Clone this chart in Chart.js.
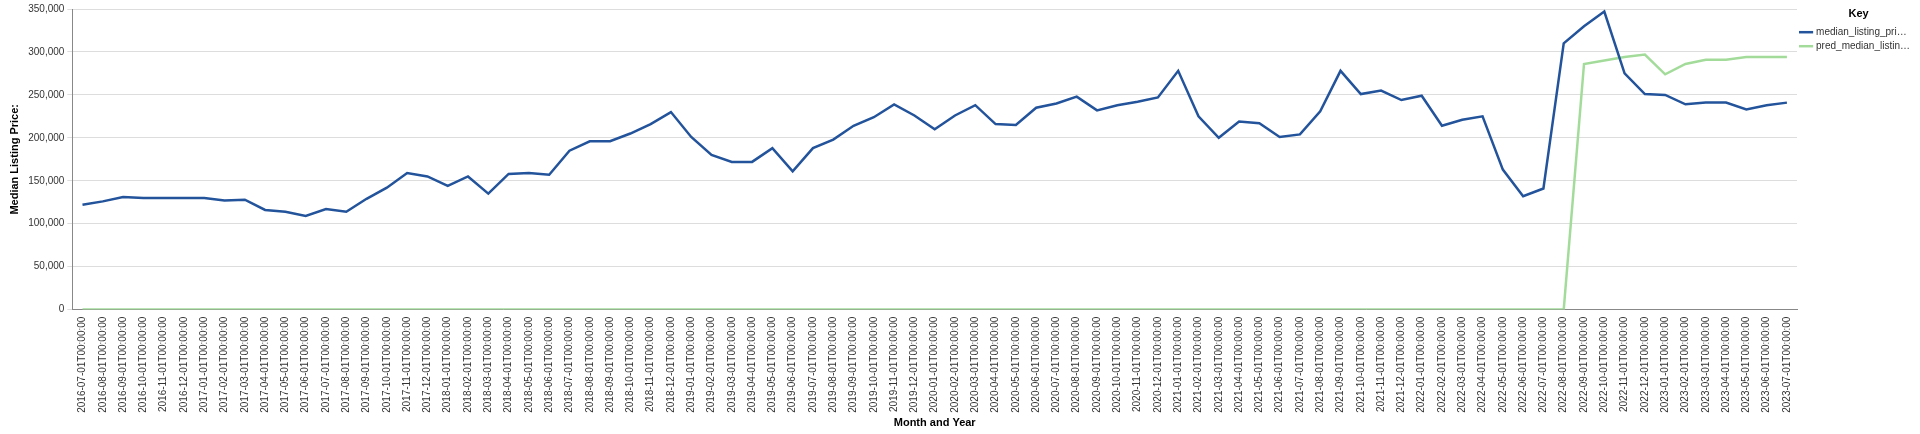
<!DOCTYPE html>
<html>
<head>
<meta charset="utf-8">
<script src="https://cdn.jsdelivr.net/npm/chart.js@4"></script>
<style>
  html, body { margin: 0; padding: 0; background: #fff; }
  #wrap { width: 1920px; height: 434px; }
</style>
</head>
<body>
<div id="wrap"><canvas id="priceChart" width="1920" height="434"></canvas></div>
<script>
const months = [];
for (let y = 2016; y <= 2023; y++) {
  for (let m = 1; m <= 12; m++) {
    if ((y === 2016 && m < 7) || (y === 2023 && m > 7)) continue;
    months.push(y + '-' + String(m).padStart(2, '0') + '-01T00:00:00');
  }
}

const medianPrice = [
  122000, 126000, 131000, 130000, 130000, 130000, 130000, 127000, 128000, 116000,
  114000, 109000, 117000, 114000, 129000, 142000, 159000, 155000, 144000, 155000,
  135000, 158000, 159000, 157000, 185000, 196000, 196000, 205000, 216000, 230000,
  201000, 180000, 172000, 172000, 188000, 161000, 188000, 198000, 214000, 224000,
  239000, 226000, 210000, 226000, 238000, 216000, 215000, 235000, 240000, 248000,
  232000, 238000, 242000, 247000, 278000, 225000, 200000, 219000, 217000, 201000,
  204000, 231000, 278000, 251000, 255000, 244000, 249000, 214000, 221000, 225000,
  163000, 132000, 141000, 310000, 330000, 347000, 275000, 251000, 250000, 239000,
  241000, 241000, 233000, 238000, 241000
];

const predPrice = [
  0, 0, 0, 0, 0, 0, 0, 0, 0, 0,
  0, 0, 0, 0, 0, 0, 0, 0, 0, 0,
  0, 0, 0, 0, 0, 0, 0, 0, 0, 0,
  0, 0, 0, 0, 0, 0, 0, 0, 0, 0,
  0, 0, 0, 0, 0, 0, 0, 0, 0, 0,
  0, 0, 0, 0, 0, 0, 0, 0, 0, 0,
  0, 0, 0, 0, 0, 0, 0, 0, 0, 0,
  0, 0, 0, 0, 286000, 290000, 294000, 297000, 274000, 286000,
  291000, 291000, 294000, 294000, 294000
];

const seriesNames = ['median_listing_pri…', 'pred_median_listin…'];

Chart.defaults.font.family = '"Liberation Sans", Arial, sans-serif';
Chart.defaults.color = '#333';

new Chart(document.getElementById('priceChart').getContext('2d'), {
  type: 'line',
  data: {
    labels: months,
    datasets: [
      { label: seriesNames[0], data: medianPrice, borderColor: '#22539b', backgroundColor: '#22539b', borderWidth: 2.5, pointRadius: 0, tension: 0 },
      { label: seriesNames[1], data: predPrice, borderColor: '#a3dc9a', backgroundColor: '#a3dc9a', borderWidth: 2.5, pointRadius: 0, tension: 0 }
    ]
  },
  options: {
    responsive: false,
    animation: false,
    layout: { padding: { left: 4, top: 8, right: 0, bottom: 0 } },
    plugins: {
      tooltip: { enabled: false },
      legend: {
        position: 'right',
        align: 'start',
        title: { display: true, text: 'Key', font: { size: 11, weight: 'bold' }, color: '#000', padding: { top: 0, bottom: 2 } },
        labels: { usePointStyle: true, pointStyle: 'line', boxWidth: 14, font: { size: 10 }, padding: 4, color: '#333' }
      }
    },
    scales: {
      x: {
        offset: true,
        grid: { display: false, drawTicks: true, tickLength: 5 },
        border: { color: '#888' },
        ticks: { autoSkip: false, minRotation: 90, maxRotation: 90, font: { size: 10 }, padding: 2 },
        title: { display: true, text: 'Month and Year', font: { size: 11, weight: 'bold' }, color: '#000', padding: { top: 2 } }
      },
      y: {
        min: 0, max: 350000,
        grid: { color: '#ddd', tickLength: 5 },
        border: { color: '#888' },
        ticks: { stepSize: 50000, font: { size: 10 }, callback: v => v.toLocaleString('en-US') },
        title: { display: true, text: 'Median Listing Price:', font: { size: 11, weight: 'bold' }, color: '#000' }
      }
    }
  }
});
</script>
</body>
</html>
